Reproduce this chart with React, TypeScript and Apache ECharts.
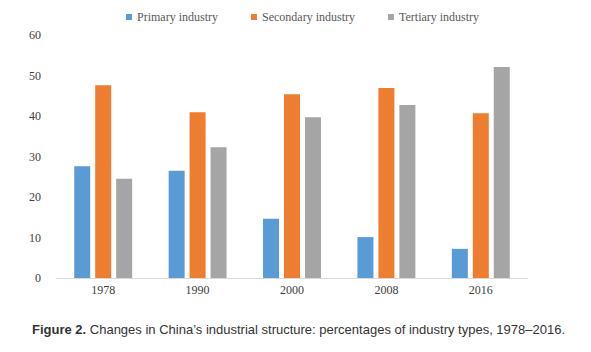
import React, { useEffect, useRef } from "react";
import * as echarts from "echarts";

const years = ["1978", "1990", "2000", "2008", "2016"];
const primary = [27.6, 26.5, 14.6, 10.1, 7.2];
const secondary = [47.6, 40.9, 45.4, 46.9, 40.7];
const tertiary = [24.5, 32.3, 39.7, 42.7, 52.1];
const seriesNames = ["Primary industry", "Secondary industry", "Tertiary industry"];
const colors = ["#5b9bd5", "#ed7d31", "#a5a5a5"];

export default function App() {
  const ref = useRef<HTMLDivElement>(null);
  useEffect(() => {
    if (!ref.current) return;
    const chart = echarts.init(ref.current, null, { renderer: "svg" });
    const serif = "'Liberation Serif', 'Times New Roman', serif";
    chart.setOption({
      animation: false,
      backgroundColor: "#ffffff",
      color: colors,
      title: {
        text: "{b|Figure 2.} Changes in China\u2019s industrial structure: percentages of industry types, 1978\u20132016.",
        left: 27,
        top: 318,
        textStyle: {
          fontFamily: "'Liberation Sans', Arial, sans-serif",
          fontSize: 13,
          fontWeight: "normal",
          color: "#333333",
          rich: {
            b: {
              fontFamily: "'Liberation Sans', Arial, sans-serif",
              fontSize: 13,
              fontWeight: "bold",
              color: "#333333",
            },
          },
        },
      },
      legend: {
        data: seriesNames,
        left: 121,
        top: 6,
        itemWidth: 6,
        itemHeight: 6,
        itemGap: 33,
        icon: "rect",
        textStyle: { fontFamily: serif, fontSize: 12, color: "#595959" },
      },
      grid: { left: 56, right: 63, top: 35, bottom: 74, containLabel: false },
      xAxis: {
        type: "category",
        data: years,
        axisLine: { lineStyle: { color: "#d9d9d9", width: 1 } },
        axisTick: { show: false },
        axisLabel: { fontFamily: serif, fontSize: 12, color: "#404040", margin: 6 },
      },
      yAxis: {
        type: "value",
        min: 0,
        max: 60,
        interval: 10,
        splitLine: { show: false },
        axisLine: { show: false },
        axisTick: { show: false },
        axisLabel: { fontFamily: serif, fontSize: 12, color: "#404040", margin: 15 },
      },
      series: [primary, secondary, tertiary].map((d, i) => ({
        name: seriesNames[i],
        type: "bar",
        data: d,
        barWidth: 16,
        barGap: "31%",
        itemStyle: { color: colors[i] },
      })),
    });
    return () => chart.dispose();
  }, []);
  return (
    <div
      ref={ref}
      style={{ position: "absolute", left: 0, top: 0, width: 591, height: 352 }}
    />
  );
}
